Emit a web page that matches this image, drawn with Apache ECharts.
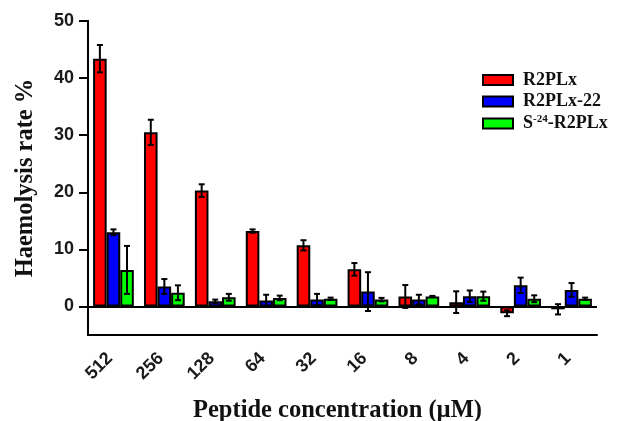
<!DOCTYPE html>
<html>
<head>
<meta charset="utf-8">
<script src="https://cdn.jsdelivr.net/npm/echarts@6/dist/echarts.min.js"></script>
<style>html,body{margin:0;padding:0;background:#fff}#c{width:619px;height:421px}</style>
</head>
<body>
<div id="c"></div>
<script>
var categories = ['512', '256', '128', '64', '32', '16', '8', '4', '2', '1'];
var seriesNames = ['R2PLx', 'R2PLx-22', 'S-24-R2PLx'];
var r2plx      = [43.4, 30.5, 20.3, 13.2, 10.7, 6.5, 1.75, 0.75, -1.2, -0.5];
var r2plxErr   = [2.4, 2.2, 1.1, 0.3, 0.9, 1.1, 2.0, 1.9, 0.5, 0.9];
var r2plx22    = [13.0, 3.5, 0.9, 1.05, 1.2, 2.6, 1.2, 1.8, 3.7, 2.9];
var r2plx22Err = [0.5, 1.3, 0.3, 1.0, 1.0, 3.4, 0.85, 1.0, 1.35, 1.2];
var s24        = [6.4, 2.4, 1.6, 1.5, 1.35, 1.2, 1.75, 1.8, 1.35, 1.35];
var s24Err     = [4.2, 1.3, 0.6, 0.4, 0.2, 0.3, 0.1, 0.8, 0.6, 0.2];
var yMin = -5, yMax = 50, yTickStep = 10;
var colors = ['#ff0000', '#0000ff', '#00ff00'];

var values = [r2plx, r2plx22, s24];
var errs = [r2plxErr, r2plx22Err, s24Err];
var GAP = 0.2;

var GRID_TOP = 21, GRID_BOTTOM_PX = 335, H = 421;
var zeroPx = GRID_BOTTOM_PX - (0 - yMin) / (yMax - yMin) * (GRID_BOTTOM_PX - GRID_TOP);

function errSeries(si) {
  return {
    type: 'custom',
    name: seriesNames[si] + ' err',
    xAxisIndex: 0, yAxisIndex: 0,
    z: 5,
    silent: true,
    data: values[si].map(function (v, i) { return [i, v, errs[si][i]]; }),
    renderItem: function (params, api) {
      var i = api.value(0), v = api.value(1), e = api.value(2);
      var c = api.coord([i, v]);
      var band = api.size([1, 0])[0];
      var bw = band * (1 - GAP) / 3;
      var x = c[0] + (si - 1) * bw;
      var top = api.coord([i, v + e])[1];
      var bot = api.coord([i, v - e])[1];
      var cap = 3;
      var st = { stroke: '#000', lineWidth: 2 };
      return {
        type: 'group',
        children: [
          { type: 'line', shape: { x1: x, y1: top, x2: x, y2: bot }, style: st },
          { type: 'line', shape: { x1: x - cap, y1: top, x2: x + cap, y2: top }, style: st },
          { type: 'line', shape: { x1: x - cap, y1: bot, x2: x + cap, y2: bot }, style: st }
        ]
      };
    }
  };
}

var series = [];
for (var s = 0; s < 3; s++) {
  var bar = {
    type: 'bar',
    name: seriesNames[s],
    xAxisIndex: 0, yAxisIndex: 0,
    data: values[s],
    barGap: '0%',
    barCategoryGap: (GAP * 100) + '%',
    itemStyle: { color: colors[s], borderColor: '#000', borderWidth: 2 }
  };
  if (s === 0) {
    bar.markLine = {
      silent: true,
      symbol: ['none', 'none'],
      label: { show: false },
      lineStyle: { color: '#000', width: 2, type: 'solid' },
      data: [{ yAxis: 0 }],
      z: 6
    };
  }
  series.push(bar);
}
for (var s2 = 0; s2 < 3; s2++) series.push(errSeries(s2));

var labelFont = { fontFamily: 'Liberation Sans', fontWeight: 'bold', color: '#1a1a1a' };

var chart = echarts.init(document.getElementById('c'));
chart.setOption({
  animation: false,
  backgroundColor: '#fff',
  grid: [
    { left: 88, right: 22, top: GRID_TOP, bottom: H - GRID_BOTTOM_PX, containLabel: false, outerBoundsMode: 'none' },
    { left: 88, right: 22, top: GRID_TOP, bottom: H - zeroPx, containLabel: false, outerBoundsMode: 'none' }
  ],
  legend: {
    data: seriesNames,
    orient: 'vertical',
    left: 482,
    top: 71,
    padding: 0,
    itemWidth: 30,
    itemHeight: 10,
    itemGap: 3.5,
    icon: 'rect',
    itemStyle: { borderColor: '#000', borderWidth: 2 },
    formatter: function (n) { return n === 'S-24-R2PLx' ? 'S{sup|-24}-R2PLx' : n; },
    textStyle: {
      fontFamily: 'Liberation Serif',
      fontWeight: 'bold',
      fontSize: 18,
      color: '#111',
      padding: [0, 0, 0, 5],
      rich: {
        sup: { fontFamily: 'Liberation Serif', fontWeight: 'bold', fontSize: 11, verticalAlign: 'top', padding: [0, 0, 8, 0], color: '#111' }
      }
    }
  },
  xAxis: [
    {
      type: 'category',
      gridIndex: 0,
      data: categories,
      name: 'Peptide concentration (\u00b5M)',
      nameLocation: 'middle',
      nameGap: 63,
      nameTextStyle: { fontFamily: 'Liberation Serif', fontWeight: 'bold', fontSize: 24.5, color: '#111', padding: [0, 10, 0, 0] },
      axisLine: { onZero: false, lineStyle: { color: '#000', width: 2 } },
      axisTick: { alignWithLabel: true, length: 8, lineStyle: { color: '#000', width: 2 } },
      axisLabel: Object.assign({ rotate: 45, margin: 17, fontSize: 18, padding: [0, 5, 0, 0] }, labelFont),
      splitLine: { show: false }
    },
    {
      type: 'category',
      gridIndex: 1,
      data: categories,
      show: false
    }
  ],
  yAxis: [
    {
      type: 'value',
      gridIndex: 0,
      min: yMin,
      max: yMax,
      name: 'Haemolysis rate %',
      nameLocation: 'middle',
      nameGap: 50,
      nameTextStyle: { fontFamily: 'Liberation Serif', fontWeight: 'bold', fontSize: 24.5, color: '#111' },
      axisLine: { show: true, lineStyle: { color: '#000', width: 2 } },
      axisTick: { show: false },
      axisLabel: { show: false },
      splitLine: { show: false }
    },
    {
      type: 'value',
      gridIndex: 1,
      min: 0,
      max: yMax,
      interval: yTickStep,
      axisLine: { show: true, lineStyle: { color: '#000', width: 2 } },
      axisTick: { show: true, inside: false, length: 9, lineStyle: { color: '#000', width: 2 } },
      axisLabel: Object.assign({ margin: 14, fontSize: 18 }, labelFont),
      splitLine: { show: false }
    }
  ],
  series: series
});
</script>
</body>
</html>
